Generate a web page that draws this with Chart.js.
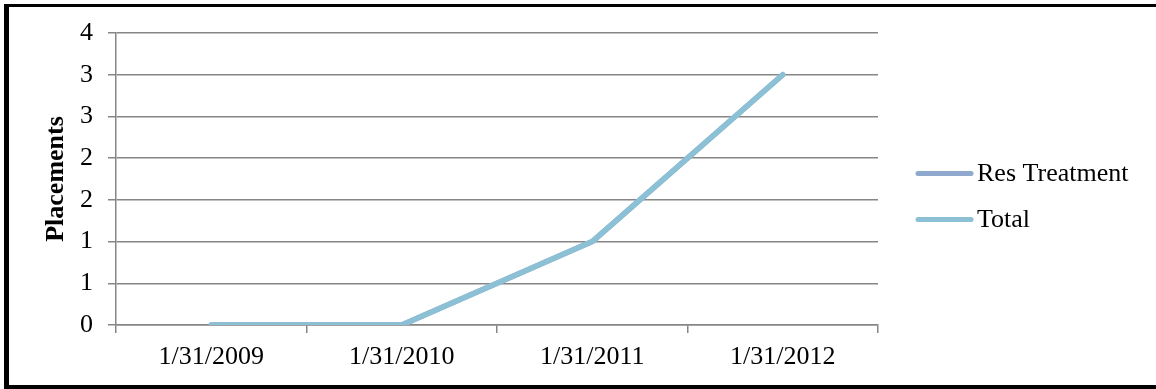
<!DOCTYPE html>
<html>
<head>
<meta charset="utf-8">
<script src="https://cdn.jsdelivr.net/npm/chart.js@4"></script>
<style>
  html, body { margin: 0; padding: 0; background: #fff; }
  #wrap { position: relative; width: 1156px; height: 389px; overflow: hidden; }
  #frame { position: absolute; left: 4px; top: 4px; width: 1170px; height: 378px; border-left: 5px solid #000; border-top: 3px solid #000; border-bottom: 4px solid #000; box-sizing: content-box; }
  canvas { position: absolute; left: 0; top: 0; }
</style>
</head>
<body>
<div id="wrap">
  <div id="frame"></div>
  <canvas id="c" width="1156" height="389"></canvas>
</div>
<script>
const categories = ['1/31/2009', '1/31/2010', '1/31/2011', '1/31/2012'];
const resTreatment = [0, 0, 1, 3];
const total = [0, 0, 1, 3];
const yTickLabels = ['0', '1', '1', '2', '2', '3', '3', '4'];
const seriesNames = ['Res Treatment', 'Total'];

const FONT = "'Liberation Serif', 'Times New Roman', serif";
const FS = 26;

const customLegend = {
  id: 'customLegend',
  afterDraw(chart) {
    const ctx = chart.ctx;
    const area = chart.chartArea;
    const x0 = area.right + 40, x1 = area.right + 93;
    const yc = chart.height / 2;
    ctx.save();
    chart.data.datasets.forEach((ds, i) => {
      const y = yc - 21 + i * 46;
      ctx.strokeStyle = ds.borderColor;
      ctx.lineWidth = 5;
      ctx.lineCap = 'round';
      ctx.beginPath();
      ctx.moveTo(x0, y);
      ctx.lineTo(x1, y);
      ctx.stroke();
      ctx.fillStyle = '#000';
      ctx.font = FS + 'px ' + FONT;
      ctx.textAlign = 'left';
      ctx.textBaseline = 'middle';
      ctx.fillText(ds.label, x1 + 6, y + 1);
    });
    ctx.restore();
  }
};

new Chart(document.getElementById('c'), {
  type: 'line',
  data: {
    labels: categories,
    datasets: [
      { label: seriesNames[0], data: resTreatment, borderColor: '#8FA8CE', backgroundColor: '#8FA8CE', borderWidth: 5.5, pointRadius: 0, tension: 0, order: 1, borderCapStyle: 'round', borderJoinStyle: 'round' },
      { label: seriesNames[1], data: total, borderColor: '#8CC0D5', backgroundColor: '#8CC0D5', borderWidth: 5.5, pointRadius: 0, tension: 0, order: 0, borderCapStyle: 'round', borderJoinStyle: 'round' }
    ]
  },
  options: {
    responsive: false,
    animation: false,
    devicePixelRatio: 1,
    layout: { padding: { left: 0, right: 278, top: 33, bottom: 0 } },
    plugins: { legend: { display: false }, tooltip: { enabled: false } },
    scales: {
      x: {
        offset: true,
        grid: { offset: true, drawOnChartArea: false, drawTicks: true, tickLength: 8, color: '#868686', lineWidth: 1.5 },
        border: { display: true, color: '#868686', width: 1.5 },
        ticks: { color: '#000', font: { family: FONT, size: FS }, padding: 9, maxRotation: 0 },
        afterFit(scale) { scale.height = 64; }
      },
      y: {
        min: 0, max: 3.5,
        grid: { color: '#868686', lineWidth: 1.5, drawTicks: true, tickLength: 8 },
        border: { display: true, color: '#868686', width: 1.5 },
        ticks: { stepSize: 0.5, color: '#000', font: { family: FONT, size: FS }, padding: 15,
          callback: (v, i) => yTickLabels[i] },
        title: { display: true, text: 'Placements', color: '#000', font: { family: FONT, size: FS, weight: 'bold' }, padding: { top: 41, bottom: 0 } },
        afterFit(scale) { scale.width = 116; }
      }
    }
  },
  plugins: [customLegend]
});
</script>
</body>
</html>
